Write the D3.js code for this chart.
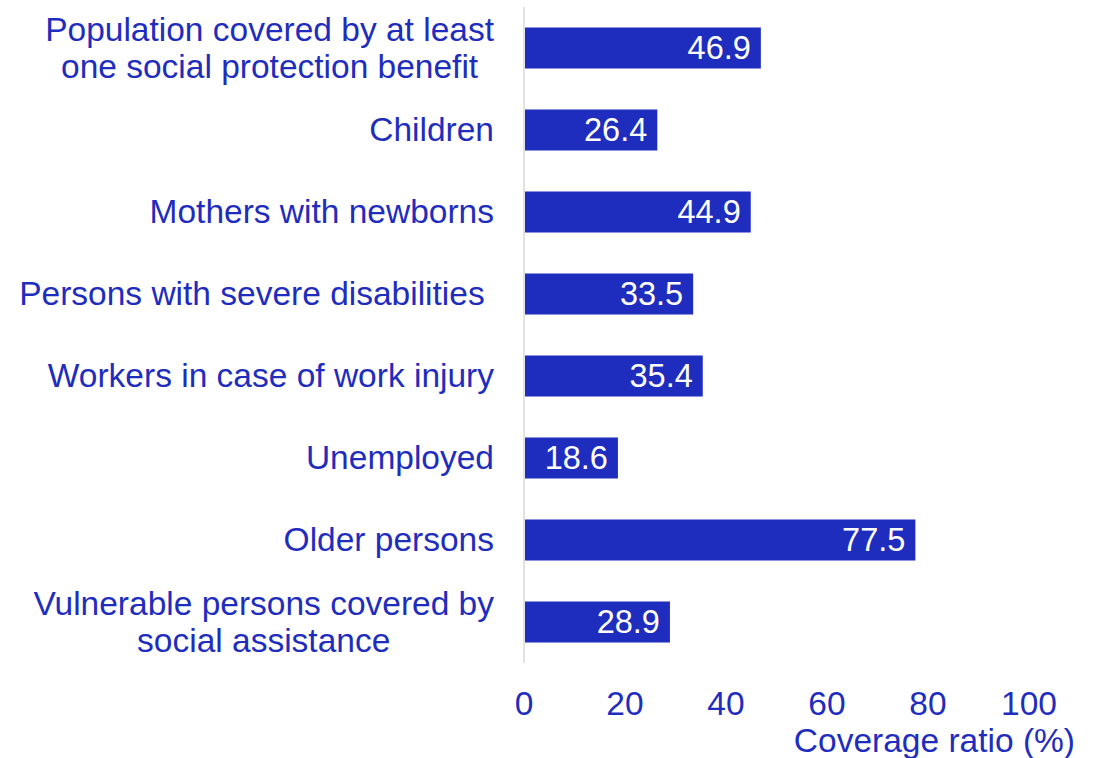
<!DOCTYPE html>
<html>
<head>
<meta charset="utf-8">
<script src="https://cdn.jsdelivr.net/npm/d3@7"></script>
<style>
  body { margin: 0; background: #fff; }
  svg text { font-family: "Liberation Sans", Arial, sans-serif; }
</style>
</head>
<body>
<svg width="1102" height="758"></svg>
<script>
const categories = [
  ["Population covered by at least", "one social protection benefit"],
  ["Children"],
  ["Mothers with newborns"],
  ["Persons with severe disabilities\u00a0"],
  ["Workers in case of work injury"],
  ["Unemployed"],
  ["Older persons"],
  ["Vulnerable persons covered by", "social assistance"]
];
const values = [46.9, 26.4, 44.9, 33.5, 35.4, 18.6, 77.5, 28.9];
const xTicks = [0, 20, 40, 60, 80, 100];
const axisTitle = "Coverage ratio (%)";

const blue = "#1f2dbe";
const svg = d3.select('svg');
const fontSize = 33.5;
const valSize = 32.5;

const x = d3.scaleLinear().domain([0, 100]).range([524, 1029]);
const y = d3.scaleBand()
  .domain(d3.range(categories.length))
  .range([7, 663])
  .paddingInner(0.5)
  .paddingOuter(0.25);

// vertical axis line
svg.append('line')
  .attr('x1', x(0)).attr('x2', x(0))
  .attr('y1', 7).attr('y2', 663)
  .attr('stroke', '#d9d9d9').attr('stroke-width', 1.5);

// bars
svg.selectAll('rect.bar').data(values).enter().append('rect')
  .attr('class', 'bar')
  .attr('x', x(0) + 1)
  .attr('y', (d, i) => y(i))
  .attr('width', d => x(d) - x(0) - 1)
  .attr('height', y.bandwidth())
  .attr('fill', blue);

// value labels
svg.selectAll('text.val').data(values).enter().append('text')
  .attr('class', 'val')
  .attr('x', d => x(d) - 10)
  .attr('y', (d, i) => y(i) + y.bandwidth() / 2 + 11)
  .attr('text-anchor', 'end')
  .attr('fill', '#fff')
  .style('font-size', valSize + 'px')
  .text(d => d.toFixed(1));

// category labels: multi-line blocks centred, block right-aligned at 494
const lineH = 37;
categories.forEach((lines, i) => {
  const cy = y(i) + y.bandwidth() / 2;
  const t = svg.append('text')
    .attr('fill', blue)
    .style('font-size', fontSize + 'px')
    .attr('text-anchor', 'middle');
  const spans = lines.map((ln, j) => t.append('tspan')
    .attr('y', cy + 11 + (j - (lines.length - 1) / 2) * lineH)
    .text(ln));
  const w = d3.max(spans, s => s.node().getComputedTextLength());
  spans.forEach(s => s.attr('x', 494 - w / 2));
});

// x tick labels
svg.selectAll('text.tick').data(xTicks).enter().append('text')
  .attr('class', 'tick')
  .attr('x', d => x(d))
  .attr('y', 715)
  .attr('text-anchor', 'middle')
  .attr('fill', blue)
  .style('font-size', fontSize + 'px')
  .text(d => d);

svg.append('text')
  .attr('x', 1075)
  .attr('y', 752)
  .attr('text-anchor', 'end')
  .attr('fill', blue)
  .style('font-size', fontSize + 'px')
  .text(axisTitle);
</script>
</body>
</html>
